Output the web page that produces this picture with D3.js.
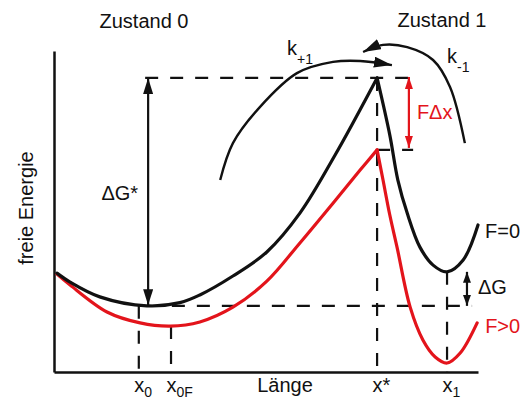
<!DOCTYPE html>
<html>
<head>
<meta charset="utf-8">
<script src="https://cdn.jsdelivr.net/npm/d3@7"></script>
<style>
  html, body { margin: 0; padding: 0; background: #fff; }
  svg { display: block; }
  text { font-family: "Liberation Sans", Arial, Helvetica, sans-serif; }
</style>
</head>
<body>
<svg id="chart" width="523" height="401"></svg>
<script>
// Energy landscape along the reaction coordinate (Länge), units 0..100 on both axes.
// Profile without force (F=0): well 0, barrier, well 1
const profileF0Left  = [[0.7,30.8],[3.8,28.0],[10.8,23.4],[21.9,20.6],[29.7,21.6],[34.4,24.0],[42.2,29.9],[50.2,37.4],[58.0,49.5],[66.3,67.6],[76.2,91.6]];
const profileF0Right = [[76.2,91.6],[79.2,73.8],[81.1,59.8],[83.3,49.5],[86.3,38.9],[89.4,33.3],[92.7,31.2],[96.5,34.9],[100,45.8]];
// Profile tilted by a pulling force (F>0)
const profileFLeft   = [[0.7,30.5],[3.8,27.1],[12.5,18.7],[20.3,15.3],[27.4,14.3],[34.4,15.6],[42.2,20.2],[50.2,28.3],[58.0,40.2],[65.8,52.6],[72.2,62.9],[76.2,69.2]];
const profileFRight  = [[76.2,69.2],[77.6,59.8],[79.2,48.9],[80.9,38.9],[84.0,20.2],[87.0,10.0],[89.9,4.7],[92.7,2.8],[95.8,5.9],[99.8,15.3]];

// Rate arrows (forward k+1 and backward k-1 transitions)
const arcForward  = [[39.2,59.8],[42.2,71.3],[48.6,82.6],[57.3,93.1],[65.8,96.6],[72.2,96.9],[79.7,95.6]];
const arcBackward = [[96.9,71.3],[93.4,88.8],[89.4,97.2],[83.3,101.2],[77.6,101.9],[72.9,99.7]];

// Marked positions on the reaction coordinate
const coordBase   = ["x", "x", "x*", "x"];
const coordSub    = ["0", "0F", "", "1"];
const coordValues = [20.0, 27.6, 76.2, 92.7];

const stateLabels = ["Zustand 0", "Zustand 1"];
const axisTitleX  = "Länge";
const axisTitleY  = "freie Energie";
const curveLabels = ["F=0", "F>0"];
const rateBase    = ["k", "k"];
const rateSub     = ["+1", "-1"];
const gapLabels   = ["ΔG*", "FΔx", "ΔG"];

const RED = "#e3141b";
const INK = "#111";

const svg = d3.select("#chart");
const x = d3.scaleLinear().domain([0, 100]).range([54, 478]);
const y = d3.scaleLinear().domain([0, 100]).range([372, 51]);

// arrowhead markers
const defs = svg.append("defs");
function marker(id, len, wid, color) {
  defs.append("marker")
    .attr("id", id)
    .attr("viewBox", `0 0 ${len} ${wid}`)
    .attr("refX", len).attr("refY", wid / 2)
    .attr("markerWidth", len).attr("markerHeight", wid)
    .attr("markerUnits", "userSpaceOnUse")
    .attr("orient", "auto-start-reverse")
    .append("path")
    .attr("d", `M0,0L${len},${wid / 2}L0,${wid}Z`)
    .attr("fill", color);
}
marker("headBig", 16, 10, INK);
marker("headArc", 18, 11, INK);
marker("headRed", 12, 8, RED);
marker("headSmall", 11, 8, INK);

// axes: plain lines, no ticks
const xAxis = svg.append("g")
  .attr("transform", `translate(0,${y(0)})`)
  .call(d3.axisBottom(x).tickValues(coordValues).tickSize(0).tickSizeOuter(0).tickPadding(0));
const yAxis = svg.append("g")
  .attr("transform", `translate(${x(0)},0)`)
  .call(d3.axisLeft(y).tickValues([]).tickSize(0).tickSizeOuter(0));
svg.selectAll(".domain").attr("stroke", INK).attr("stroke-width", 2.5);

// tick labels with subscripts
xAxis.selectAll(".tick text").each(function (d, i) {
  const t = d3.select(this);
  t.text(null)
    .attr("text-anchor", "start")
    .attr("x", -5)
    .attr("y", 20)
    .attr("dy", null)
    .attr("font-size", 20)
    .attr("font-family", "Liberation Sans, Arial, sans-serif")
    .attr("fill", INK);
  t.append("tspan").text(coordBase[i]);
  if (coordSub[i]) t.append("tspan").attr("font-size", 14).attr("dy", 5).text(coordSub[i]);
});

const lineGen = d3.line()
  .x(d => x(d[0])).y(d => y(d[1]))
  .curve(d3.curveCatmullRom.alpha(0.5));

// extremes taken from the profiles
const peakF0  = profileF0Left[profileF0Left.length - 1];
const peakF   = profileFLeft[profileFLeft.length - 1];
const minF0L  = profileF0Left.reduce((a, b) => (b[1] < a[1] ? b : a));
const minF0R  = profileF0Right.reduce((a, b) => (b[1] < a[1] ? b : a));
const minFL   = profileFLeft.reduce((a, b) => (b[1] < a[1] ? b : a));

// dashed guide lines
const dashed = svg.append("g")
  .attr("stroke", INK).attr("stroke-width", 2.2)
  .attr("stroke-dasharray", "13,12").attr("fill", "none");
const guide = (x1, y1, x2, y2) => dashed.append("line")
  .attr("x1", x(x1)).attr("y1", y(y1)).attr("x2", x(x2)).attr("y2", y(y2));
guide(21.5, peakF0[1], 84.7, peakF0[1]);          // barrier top
guide(coordValues[2], peakF[1], 84.7, peakF[1]);  // tilted barrier
guide(minF0L[0], minF0L[1], 98.6, minF0L[1]);     // well 0 level
guide(coordValues[2], peakF0[1], coordValues[2], 0);
guide(coordValues[0], minF0L[1], coordValues[0], 0);
guide(coordValues[1], minFL[1], coordValues[1], 0);
guide(coordValues[3], minF0R[1], coordValues[3], 0);

// energy profiles
const profiles = [
  [profileFLeft, RED], [profileFRight, RED],
  [profileF0Left, INK], [profileF0Right, INK]
];
svg.append("g").selectAll("path").data(profiles).join("path")
  .attr("d", d => lineGen(d[0]))
  .attr("fill", "none")
  .attr("stroke", d => d[1])
  .attr("stroke-width", 3.2)
  .attr("stroke-linejoin", "miter")
  .attr("stroke-linecap", "round");

// rate arcs
svg.append("g").selectAll("path").data([arcForward, arcBackward]).join("path")
  .attr("d", d => lineGen(d))
  .attr("fill", "none")
  .attr("stroke", INK)
  .attr("stroke-width", 2.4)
  .attr("marker-end", "url(#headArc)");

// double-headed gap arrows
const gapX = [22.2, 83.7, 97.4];
const gaps = [
  { x: gapX[0], y1: minF0L[1] + 0.2, y2: peakF0[1], color: INK, head: "headBig" },
  { x: gapX[1], y1: peakF[1] + 0.6, y2: peakF0[1] + 0.3, color: RED, head: "headRed" },
  { x: gapX[2], y1: minF0L[1], y2: minF0R[1], color: INK, head: "headSmall" }
];
svg.append("g").selectAll("line").data(gaps).join("line")
  .attr("x1", d => x(d.x)).attr("x2", d => x(d.x))
  .attr("y1", d => y(d.y1)).attr("y2", d => y(d.y2))
  .attr("stroke", d => d.color)
  .attr("stroke-width", 2.2)
  .attr("marker-start", d => `url(#${d.head})`)
  .attr("marker-end", d => `url(#${d.head})`);

// text
const txt = svg.append("g").attr("font-size", 20).attr("fill", INK);
const mid = d => (y(d.y1) + y(d.y2)) / 2;

txt.append("text").attr("x", x(gapX[0]) - 10).attr("y", mid(gaps[0]) + 8)
  .attr("text-anchor", "end").text(gapLabels[0]);
txt.append("text").attr("x", x(gapX[1]) + 8).attr("y", mid(gaps[1]) + 7)
  .attr("fill", RED).text(gapLabels[1]);
txt.append("text").attr("x", x(gapX[2]) + 11).attr("y", mid(gaps[2]) + 5)
  .text(gapLabels[2]);

const endF0 = profileF0Right[profileF0Right.length - 1];
const endF  = profileFRight[profileFRight.length - 1];
txt.append("text").attr("x", x(endF0[0]) + 7).attr("y", y(endF0[1]) + 13).text(curveLabels[0]);
txt.append("text").attr("x", x(endF[0]) + 8).attr("y", y(endF[1]) + 10).attr("fill", RED).text(curveLabels[1]);

txt.append("text").attr("x", 144).attr("y", 28).attr("text-anchor", "middle").text(stateLabels[0]);
txt.append("text").attr("x", 442).attr("y", 27).attr("text-anchor", "middle").text(stateLabels[1]);

// rate constants with subscripts
const ratePos = [[287, 55], [447, 63]];
ratePos.forEach((p, i) => {
  const t = txt.append("text").attr("x", p[0]).attr("y", p[1]);
  t.append("tspan").text(rateBase[i]);
  t.append("tspan").attr("font-size", 14).attr("dy", 9).text(rateSub[i]);
});

txt.append("text").attr("x", 285).attr("y", 392).attr("text-anchor", "middle").text(axisTitleX);
txt.append("text")
  .attr("transform", `translate(33,${208}) rotate(-90)`)
  .attr("text-anchor", "middle").text(axisTitleY);
</script>
</body>
</html>
